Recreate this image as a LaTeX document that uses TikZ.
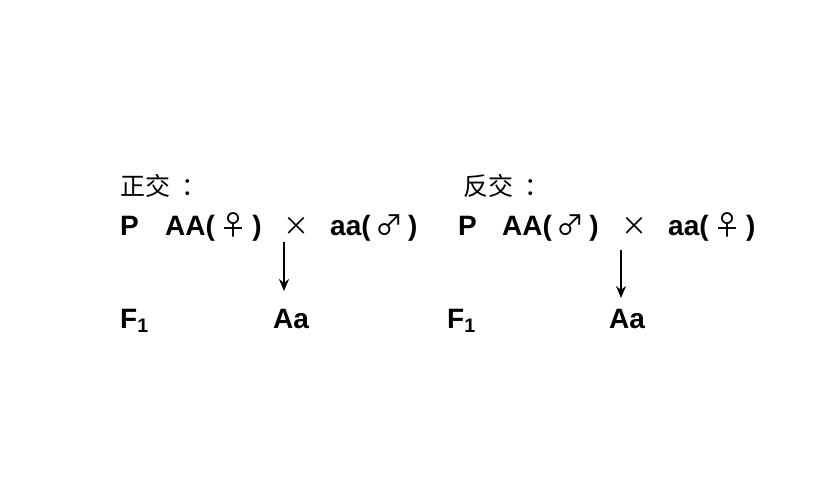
\documentclass[tikz,border=0pt]{standalone}
\usepackage{fontspec}
\setmainfont{Liberation Sans}
\newfontfamily\cjk{Noto Sans CJK SC}
\usetikzlibrary{positioning,arrows,arrows.meta}
\newcommand{\sexsym}[1]{\,{\mdseries\cjk #1}\,}

\begin{document}
\begin{tikzpicture}[x=1pt,y=-1pt]
\tikzstyle{gene}=[anchor=base west, inner sep=0pt, font=\fontsize{28}{30}\selectfont\bfseries]
\tikzstyle{head}=[anchor=base west, inner sep=0pt, font=\fontsize{25}{27}\selectfont\cjk]
\tikzstyle{cross}=[inner sep=0pt, font=\fontsize{26}{28}\selectfont\cjk]
\tikzstyle{connect}=[-{Stealth[length=12pt,width=10pt]}, line width=1.6pt]
\useasboundingbox (0,0) rectangle (833,484);
% zheng jiao
	\node[head] (h_1) at (120,195) {正交\kern11pt：};
	\node[gene] (p_1) at (120,235) {P};
	\node[gene] (mom_1) at (165,235) {AA(\sexsym{♀})};
	\node[cross] (x_1) at (296,226) {×};
	\node[gene] (dad_1) at (330,235) {aa(\sexsym{♂})};
	\node[gene] (f_1) at (120,328) {F$_\mathbf{1}$};
	\node[gene] (kid_1) at (273,328) {Aa};
	\coordinate (a_1) at (284,242);
	\coordinate (b_1) at (284,291);
% fan jiao
	\node[head] (h_2) at (463,195) {反交\kern11pt：};
	\node[gene] (p_2) at (458,235) {P};
	\node[gene] (mom_2) at (502,235) {AA(\sexsym{♂})};
	\node[cross] (x_2) at (634,226) {×};
	\node[gene] (dad_2) at (668,235) {aa(\sexsym{♀})};
	\node[gene] (f_2) at (447,328) {F$_\mathbf{1}$};
	\node[gene] (kid_2) at (609,328) {Aa};
	\coordinate (a_2) at (621,250);
	\coordinate (b_2) at (621,298);

	\path
		(a_1) edge[connect] (b_1)
		(a_2) edge[connect] (b_2);
\end{tikzpicture}
\end{document}
